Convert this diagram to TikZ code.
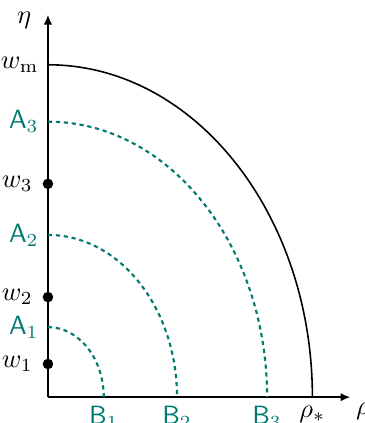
\documentclass[tikz,border=0pt]{standalone}
\usepackage{amsmath,amssymb}
\usetikzlibrary{arrows.meta,positioning}
\definecolor{arcteal}{RGB}{0,122,112}

\begin{document}
\begin{tikzpicture}[scale=0.7,
 axis/.style={semithick,-{Latex[length=1.3mm,width=1.1mm]}},
 level/.style={arcteal,thick,dash pattern=on 1.6pt off 1.4pt},
 dot/.style={circle,fill,inner sep=0pt,minimum size=1.4mm},
 lab/.style={text=arcteal,font=\sffamily}]
\useasboundingbox (-0.91,-0.49) rectangle (6.0,7.54);
\coordinate (O) at (0,0);
\coordinate (xend) at (5.74,0);
\coordinate (yend) at (0,7.26);
\draw[axis] (O)--(xend);
\draw[axis] (O)--(yend);
\node[below right,inner sep=2pt] (rho) at (xend) {$\rho$};
\node (eta) at (-0.45,7.16) {$\eta$};
% outer curve
\coordinate (wm) at (0,6.31);
\coordinate (rhostar) at (5.02,0);
\draw[semithick] (wm) arc[start angle=90,end angle=0,x radius=5.02,y radius=6.31];
\node[left] (wmlab) at (wm) {$w_{\mathrm{m}}$};
\node[below] (rhostarlab) at (rhostar) {$\rho_*$};
% dashed level curves
\coordinate (A3) at (0,5.23);
\coordinate (B3) at (4.16,0);
\coordinate (A2) at (0,3.08);
\coordinate (B2) at (2.45,0);
\coordinate (A1) at (0,1.33);
\coordinate (B1) at (1.06,0);
\draw[level] (A3) arc[start angle=90,end angle=0,x radius=4.16,y radius=5.23];
\draw[level] (A2) arc[start angle=90,end angle=0,x radius=2.45,y radius=3.08];
\draw[level] (A1) arc[start angle=90,end angle=0,x radius=1.06,y radius=1.33];
\node[lab,left] (A3lab) at (A3) {$\mathsf{A}_3$};
\node[lab,left] (A2lab) at (A2) {$\mathsf{A}_2$};
\node[lab,left] (A1lab) at (A1) {$\mathsf{A}_1$};
\node[lab,below] (B3lab) at (B3) {$\mathsf{B}_3$};
\node[lab,below] (B2lab) at (B2) {$\mathsf{B}_2$};
\node[lab,below] (B1lab) at (B1) {$\mathsf{B}_1$};
% points on the axis
\node[dot] (w3) at (0,4.05) {};
\node[dot] (w2) at (0,1.90) {};
\node[dot] (w1) at (0,0.63) {};
\node[left=0pt of w3] (w3lab) {$w_3$};
\node[left=0pt of w2] (w2lab) {$w_2$};
\node[left=0pt of w1] (w1lab) {$w_1$};
\end{tikzpicture}
\end{document}
